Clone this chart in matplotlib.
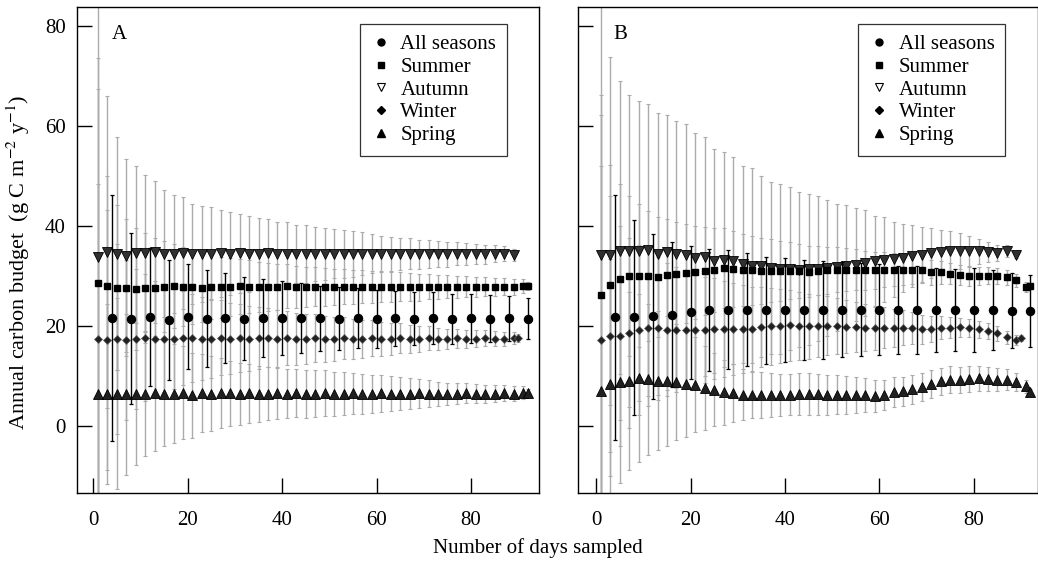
import matplotlib
matplotlib.use("Agg")
import matplotlib.pyplot as plt
from matplotlib.lines import Line2D
import numpy as np

plt.rcParams['font.family'] = ['Liberation Serif', 'DejaVu Serif']
plt.rcParams['mathtext.fontset'] = 'stix'

# days sampled per season (x values)
x_aut = np.arange(1, 90, 2)                      # 1..89
x_sum = np.append(np.arange(1, 92, 2), 92)       # 1..91, 92
x_win = np.append(np.arange(1, 90, 2), 90)       # 1..89, 90
x_spr = np.append(np.arange(1, 92, 2), 92)       # 1..91, 92
x_all = np.arange(4, 93, 4)                      # 4..92

# ---- panel A ----
autumn_A = [33.8, 34.8, 34.4, 34.0, 34.6, 34.6, 34.7, 34.4, 34.3, 34.6,
            34.3, 34.4, 34.4, 34.5, 34.4, 34.5, 34.4, 34.4, 34.5, 34.3,
            34.4, 34.4, 34.3, 34.4, 34.4, 34.4, 34.3, 34.4, 34.4, 34.4,
            34.3, 34.4, 34.4, 34.4, 34.3, 34.4, 34.4, 34.3, 34.4, 34.4,
            34.4, 34.3, 34.4, 34.4, 34.2]
autumn_A_sd = [54, 31.2, 23.3, 19.3, 17.3, 15.6, 14.2, 12.7, 11.8, 11.2,
               10.0, 9.6, 9.3, 8.7, 8.3, 7.9, 7.6, 7.1, 6.8, 6.5,
               6.3, 5.8, 5.8, 5.4, 5.2, 4.9, 4.8, 4.6, 4.3, 3.9,
               3.6, 3.4, 3.2, 3.1, 2.9, 2.8, 2.6, 2.5, 2.3, 2.2,
               2.0, 1.9, 1.7, 1.5, 1.2]
summer_A = [28.6, 28.0, 27.6, 27.6, 27.4, 27.6, 27.6, 27.8, 28.0, 27.8,
            27.7, 27.6, 27.8, 27.7, 27.8, 27.9, 27.8, 27.8, 27.7, 27.8,
            27.9, 27.8, 27.7, 27.8, 27.8, 27.7, 27.8, 27.8, 27.8, 27.7,
            27.8, 27.8, 27.8, 27.8, 27.7, 27.8, 27.8, 27.8, 27.8, 27.8,
            27.7, 27.8, 27.8, 27.8, 27.8, 27.9, 27.9]
summer_A_sd = [45, 22, 16.5, 13.7, 12.2, 11.0, 10.0, 9.1, 8.4, 7.9,
               7.3, 6.9, 6.5, 6.1, 5.8, 5.5, 5.3, 5.0, 4.8, 4.6,
               4.4, 4.2, 4.0, 3.9, 3.8, 3.6, 3.5, 3.4, 3.3, 3.2,
               3.1, 3.0, 2.9, 2.8, 2.7, 2.5, 2.4, 2.3, 2.2, 2.1,
               2.0, 1.9, 1.8, 1.7, 1.6, 1.4, 0.8]
winter_A = [17.3, 17.2, 17.4, 17.2, 17.3, 17.6, 17.4, 17.4, 17.3, 17.6,
            17.5, 17.4, 17.4, 17.6, 17.4, 17.5, 17.4, 17.5, 17.6, 17.4,
            17.5, 17.4, 17.4, 17.5, 17.4, 17.4, 17.5, 17.4, 17.4, 17.5,
            17.4, 17.4, 17.5, 17.4, 17.4, 17.5, 17.4, 17.4, 17.5, 17.4,
            17.4, 17.5, 17.4, 17.4, 17.5, 17.6]
winter_A_sd = [50, 26, 19, 16, 14, 12.7, 11.6, 10.7, 10.0, 9.4,
               8.8, 8.3, 7.9, 7.5, 7.1, 6.8, 6.5, 6.2, 5.9, 5.7,
               5.4, 5.2, 5.0, 4.8, 4.6, 4.4, 4.2, 4.0, 3.8, 3.6,
               3.4, 3.2, 3.0, 2.8, 2.6, 2.4, 2.2, 2.0, 1.9, 1.8,
               1.7, 1.6, 1.5, 1.4, 1.2, 0.8]
spring_A = [6.4, 6.4, 6.4, 6.3, 6.4, 6.4, 6.5, 6.4, 6.4, 6.6,
            6.1, 6.5, 6.4, 6.5, 6.5, 6.4, 6.5, 6.4, 6.4, 6.5,
            6.4, 6.5, 6.4, 6.4, 6.5, 6.4, 6.4, 6.5, 6.4, 6.4,
            6.5, 6.4, 6.4, 6.4, 6.5, 6.4, 6.4, 6.4, 6.4, 6.5,
            6.4, 6.4, 6.4, 6.5, 6.4, 6.6, 6.5]
spring_A_sd = [42, 18, 19.1, 16.1, 14.2, 12.4, 11.5, 10.5, 9.9, 9.3,
               8.5, 7.8, 7.5, 7.0, 6.5, 6.2, 5.9, 5.6, 5.3, 5.1,
               4.9, 4.8, 4.8, 4.7, 4.6, 4.4, 4.3, 4.1, 4.0, 3.8,
               3.7, 3.5, 3.3, 3.1, 2.9, 2.7, 2.4, 2.2, 2.1, 2.0,
               1.9, 1.8, 1.7, 1.6, 1.5, 1.3, 0.8]
all_A = [21.5, 21.4, 21.8, 21.2, 21.8, 21.4, 21.5, 21.4, 21.6, 21.6,
         21.5, 21.5, 21.4, 21.5, 21.4, 21.5, 21.4, 21.5, 21.4, 21.5,
         21.4, 21.5, 21.4]
all_A_sd = [24.6, 17.1, 13.8, 12.0, 10.5, 9.7, 9.0, 8.3, 7.8, 7.4,
            7.0, 6.5, 6.3, 6.0, 5.8, 5.5, 5.3, 5.2, 5.0, 4.85,
            4.7, 4.5, 4.1]

# ---- panel B ----
autumn_B = [34.2, 34.2, 35.0, 35.0, 34.9, 35.2, 34.3, 34.7, 34.3, 34.2,
            33.5, 33.8, 32.9, 33.2, 33.0, 32.3, 32.0, 31.9, 31.5, 31.4,
            31.4, 31.2, 31.3, 31.4, 31.5, 31.7, 31.9, 32.2, 32.6, 32.9,
            33.2, 33.3, 33.5, 33.9, 34.2, 34.5, 34.7, 34.9, 34.9, 34.9,
            34.9, 34.7, 34.5, 34.9, 34.2]
autumn_B_sd = [55, 39.5, 33.9, 31.2, 30.0, 29.2, 28.2, 27.5, 26.7, 26.1,
               25.0, 23.9, 22.4, 21.5, 20.7, 19.7, 19.5, 18.1, 17.2, 17.0,
               16.3, 15.5, 15.1, 14.5, 13.6, 12.7, 12.2, 11.3, 10.6, 9.1,
               8.5, 7.5, 6.8, 6.2, 5.5, 5.0, 4.5, 4.0, 3.6, 3.0,
               2.5, 2.0, 1.6, 1.2, 0.6]
summer_B = [26.2, 28.2, 29.3, 30.0, 30.0, 29.9, 29.7, 30.2, 30.3, 30.5,
            30.7, 31.0, 31.2, 31.5, 31.3, 31.2, 31.1, 31.0, 31.0, 31.0,
            31.0, 31.0, 30.8, 31.0, 31.1, 31.2, 31.2, 31.2, 31.1, 31.1,
            31.2, 31.2, 31.2, 31.2, 31.2, 30.7, 30.7, 30.4, 30.2, 29.9,
            29.9, 30.0, 29.9, 29.7, 29.1, 27.7, 28.0]
summer_B_sd = [40, 24, 19, 16, 14.3, 13.0, 12.0, 11.2, 10.5, 9.9,
               9.3, 8.8, 8.4, 8.0, 7.6, 7.2, 6.9, 6.6, 6.3, 6.0,
               5.7, 5.4, 5.1, 4.9, 4.7, 4.5, 4.3, 4.1, 3.9, 3.7,
               3.5, 3.3, 3.1, 2.9, 2.7, 2.5, 2.3, 2.1, 2.0, 1.9,
               1.8, 1.7, 1.6, 1.5, 1.3, 1.0, 0.6]
winter_B = [17.2, 18.0, 18.0, 18.5, 19.1, 19.5, 19.5, 19.2, 19.2, 19.2,
            19.2, 19.2, 19.4, 19.4, 19.4, 19.4, 19.4, 19.7, 19.9, 20.0,
            20.1, 20.0, 19.9, 20.0, 20.0, 19.9, 19.8, 19.7, 19.6, 19.6,
            19.6, 19.6, 19.6, 19.6, 19.3, 19.3, 19.6, 19.6, 19.7, 19.6,
            19.3, 18.9, 18.5, 17.7, 17.2, 17.5]
winter_B_sd = [45, 28, 22, 19, 17, 15.5, 14.3, 13.3, 12.5, 11.8,
               11.2, 10.6, 10.1, 9.6, 9.2, 8.8, 8.4, 8.0, 7.7, 7.4,
               7.1, 6.8, 6.5, 6.2, 5.9, 5.6, 5.3, 5.0, 4.7, 4.4,
               4.1, 3.8, 3.5, 3.2, 2.9, 2.6, 2.3, 2.1, 1.9, 1.8,
               1.7, 1.6, 1.5, 1.3, 1.0, 0.6]
spring_B = [6.9, 8.3, 8.7, 8.9, 9.5, 9.3, 9.0, 8.9, 8.8, 8.4,
            8.2, 7.5, 7.2, 6.7, 6.5, 6.2, 6.1, 6.1, 6.1, 6.1,
            6.2, 6.4, 6.4, 6.3, 6.2, 6.2, 6.2, 6.2, 6.2, 6.0,
            6.2, 6.7, 6.9, 7.3, 7.7, 8.4, 8.9, 9.2, 9.2, 9.3,
            9.5, 9.4, 9.2, 9.2, 8.7, 7.9, 6.7]
spring_B_sd = [45, 25, 20.2, 17.8, 16.8, 15.1, 13.9, 13.0, 11.6, 10.7,
               9.5, 8.4, 7.3, 6.5, 5.8, 5.1, 4.6, 4.6, 4.4, 4.2,
               4.1, 4.2, 4.2, 4.1, 4.0, 3.9, 3.8, 3.6, 3.4, 3.2,
               3.0, 3.0, 2.9, 2.9, 2.8, 2.8, 2.7, 2.7, 2.6, 2.6,
               2.5, 2.4, 2.3, 2.1, 1.8, 1.3, 0.6]
all_B = [21.7, 21.7, 21.9, 22.2, 22.7, 23.1, 23.2, 23.2, 23.1, 23.2,
         23.2, 23.2, 23.2, 23.2, 23.2, 23.2, 23.2, 23.2, 23.2, 23.2,
         23.2, 23.0, 22.9]
all_B_sd = [24.5, 19.5, 16.5, 14.5, 13.3, 12.2, 11.9, 11.3, 10.7, 10.4,
            10.0, 9.8, 9.5, 9.3, 9.1, 8.85, 8.75, 8.4, 8.25, 8.4,
            8.0, 7.5, 7.2]

labels = ["All seasons", "Summer", "Autumn", "Winter", "Spring"]
grey = '#ababab'


def draw_panel(ax, aut, aut_sd, sm, sm_sd, wi, wi_sd, sp, sp_sd, al, al_sd, letter):
    # grey error bars for every season
    for xs, ys, sd in [(x_aut, aut, aut_sd), (x_sum, sm, sm_sd),
                       (x_win, wi, wi_sd), (x_spr, sp, sp_sd)]:
        ax.errorbar(xs, ys, yerr=sd, fmt='none', ecolor=grey, elinewidth=1.0,
                    capsize=1.3, capthick=0.8, zorder=1)
    ax.plot(x_aut, aut, 'v', ms=6.5, mfc='#303030', mec='black', mew=0.6, zorder=3)
    ax.plot(x_sum, sm, 's', ms=4.6, color='black', zorder=3)
    ax.plot(x_win, wi, 'D', ms=4.2, mfc='#202020', mec='#606060', mew=0.5, zorder=3)
    ax.plot(x_spr, sp, '^', ms=6.5, mfc='#202020', mec='black', mew=0.6, zorder=3)
    ax.errorbar(x_all, al, yerr=al_sd, fmt='none', ecolor='black', elinewidth=1.0,
                capsize=1.3, capthick=0.9, zorder=4)
    ax.plot(x_all, al, 'o', ms=5.8, color='black', zorder=5)

    ax.set_ylim(-13.4, 83.7)
    ax.set_yticks([0, 20, 40, 60, 80])
    ax.set_xticks([0, 20, 40, 60, 80])
    ax.tick_params(axis='both', direction='in', length=11, width=1, labelsize=15,
                   top=False, right=False)
    ax.tick_params(axis='x', pad=13)
    ax.tick_params(axis='y', pad=8)
    for s in ax.spines.values():
        s.set_linewidth(1.0)
    ax.text(0.092, 0.945, letter, transform=ax.transAxes, fontsize=15,
            ha='center', va='center')

    handles = [Line2D([], [], ls='none', marker='o', ms=5, color='black'),
               Line2D([], [], ls='none', marker='s', ms=5, color='black'),
               Line2D([], [], ls='none', marker='v', ms=6, mfc='white', mec='black', mew=0.8),
               Line2D([], [], ls='none', marker='D', ms=3.8, color='black'),
               Line2D([], [], ls='none', marker='^', ms=6, color='black')]
    leg = ax.legend(handles, labels, loc='upper right', bbox_to_anchor=(0.93, 0.965),
                    fontsize=15, frameon=True, fancybox=False, labelspacing=0.15,
                    handlelength=1.0, handletextpad=0.45, borderpad=0.5,
                    borderaxespad=0)
    leg.get_frame().set_edgecolor('black')
    leg.get_frame().set_linewidth(0.9)


fig = plt.figure(figsize=(10.38, 5.61), dpi=100)
W, H = 1038.0, 561.0
ax1 = fig.add_axes([76.7 / W, (H - 493) / H, 462.3 / W, 485.7 / H])
ax2 = fig.add_axes([578.3 / W, (H - 493) / H, (1037.5 - 578.3) / W, 485.7 / H])

draw_panel(ax1, autumn_A, autumn_A_sd, summer_A, summer_A_sd, winter_A, winter_A_sd,
           spring_A, spring_A_sd, all_A, all_A_sd, 'A')
draw_panel(ax2, autumn_B, autumn_B_sd, summer_B, summer_B_sd, winter_B, winter_B_sd,
           spring_B, spring_B_sd, all_B, all_B_sd, 'B')

ax1.set_xlim(-3.5, 94.4)
ax2.set_xlim(-3.8, 93.5)
ax2.tick_params(labelleft=False)

fig.text(0.018, 0.533, r'Annual carbon budget  (g C m$^{-2}$ y$^{-1}$)', fontsize=16,
         rotation=90, ha='center', va='center')
fig.text(0.518, 0.006, 'Number of days sampled', fontsize=15, ha='center', va='bottom')

fig.savefig('out.png', dpi=100)
